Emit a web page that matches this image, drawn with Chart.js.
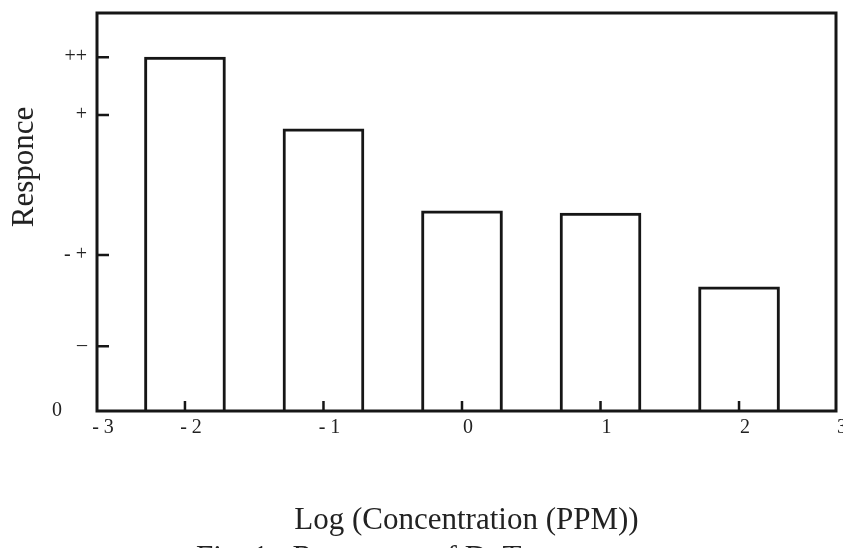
<!DOCTYPE html>
<html>
<head>
<meta charset="utf-8">
<script src="https://cdn.jsdelivr.net/npm/chart.js@4"></script>
<style>
  body { margin: 0; background: #fff; }
  #wrap { width: 843px; height: 548px; position: relative; }
</style>
</head>
<body>
<div id="wrap"><canvas id="responseChart"></canvas></div>
<script>
const xValues = [-2, -1, 0, 1, 2];
const responses = [88.9, 70.9, 50.3, 49.7, 31.2];
// outer entries are the axis ends, labelled -3 and 3 in the figure
const xTickValues = [-2.635, -2, -1, 0, 1, 2, 2.70];
const xTickLabels = ['- 3', '- 2', '- 1', '0', '1', '2', '3'];
const yTickValues = [0, 16.3, 39.2, 74.4, 88.9];
const yTickLabels = ['0', '–', '- +', '+', '++'];

const ink = '#161616';
const serif = "'Liberation Serif', 'DejaVu Serif', serif";

const frameAndTicks = {
  id: 'frameAndTicks',
  afterDatasetsDraw(chart) {
    const { ctx, chartArea: a, scales: { x, y } } = chart;
    ctx.save();
    ctx.strokeStyle = ink;
    ctx.lineWidth = 3;
    ctx.strokeRect(a.left, a.top, a.right - a.left, a.bottom - a.top);

    ctx.lineWidth = 2.5;
    ctx.beginPath();
    yTickValues.slice(1).forEach((v) => {
      const py = y.getPixelForValue(v);
      ctx.moveTo(a.left, py);
      ctx.lineTo(a.left + 12, py);
    });
    xValues.forEach((v) => {
      const px = x.getPixelForValue(v);
      ctx.moveTo(px, a.bottom);
      ctx.lineTo(px, a.bottom - 10);
    });
    ctx.stroke();

    // y axis title sits above centre in the original
    ctx.fillStyle = '#222';
    ctx.font = '31px ' + serif;
    ctx.textAlign = 'center';
    ctx.textBaseline = 'alphabetic';
    ctx.translate(33, 167);
    ctx.rotate(-Math.PI / 2);
    ctx.fillText('Responce', 0, 0);
    ctx.restore();

    // figure caption, cut off by the bottom edge
    ctx.save();
    ctx.fillStyle = '#222';
    ctx.font = '31px ' + serif;
    ctx.textAlign = 'left';
    ctx.textBaseline = 'alphabetic';
    ctx.fillText('Fig. 1 : Responses of D. T', 196, 567);
    ctx.restore();
  },
};

function noEdgePadding(scale) {
  scale.paddingTop = 0;
  scale.paddingBottom = 0;
  scale.paddingLeft = 0;
  scale.paddingRight = 0;
}

const ctx = document.getElementById('responseChart').getContext('2d');
new Chart(ctx, {
  type: 'bar',
  data: {
    datasets: [{
      data: xValues.map((x, i) => ({ x, y: responses[i] })),
      backgroundColor: '#fff',
      borderColor: ink,
      borderWidth: 3,
      borderSkipped: 'bottom',
      barThickness: 81,
    }],
  },
  options: {
    responsive: true,
    maintainAspectRatio: false,
    animation: false,
    layout: { padding: { top: 13, right: 7, bottom: 0, left: 0 } },
    plugins: { legend: { display: false }, tooltip: { enabled: false } },
    scales: {
      x: {
        type: 'linear',
        min: xTickValues[0],
        max: xTickValues[xTickValues.length - 1],
        offset: false,
        grid: { display: false, offset: false, drawTicks: false },
        border: { display: false },
        afterBuildTicks: (scale) => { scale.ticks = xTickValues.map((v) => ({ value: v })); },
        afterFit: (scale) => { scale.height = 137; noEdgePadding(scale); },
        ticks: {
          autoSkip: false,
          maxRotation: 0,
          padding: 5,
          labelOffset: 6,
          color: '#222',
          font: { family: serif, size: 20 },
          callback: (value, index) => xTickLabels[index],
        },
        title: {
          display: true,
          text: 'Log (Concentration (PPM))',
          color: '#222',
          font: { family: serif, size: 31 },
          padding: { top: 0, bottom: 9 },
        },
      },
      y: {
        min: 0,
        max: 100,
        grid: { display: false, drawTicks: false },
        border: { display: false },
        afterBuildTicks: (scale) => { scale.ticks = yTickValues.map((v) => ({ value: v })); },
        afterFit: (scale) => { scale.width = 97; noEdgePadding(scale); },
        ticks: {
          autoSkip: false,
          padding: 10,
          color: '#222',
          font: { family: serif, size: 20 },
          // the zero label stands further left than the others
          callback: (value, index) => (index === 0 ? yTickLabels[index] + '     ' : yTickLabels[index]),
        },
      },
    },
  },
  plugins: [frameAndTicks],
});
</script>
</body>
</html>
